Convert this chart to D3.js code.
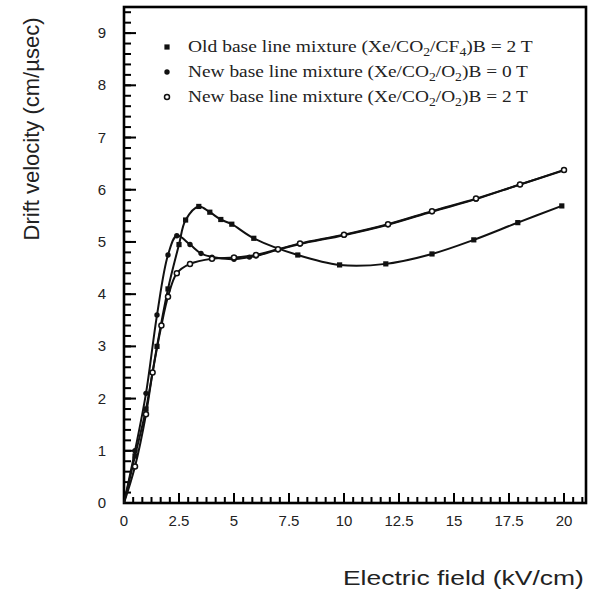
<!DOCTYPE html>
<html>
<head>
<meta charset="utf-8">
<script src="https://cdn.jsdelivr.net/npm/d3@7/dist/d3.min.js"></script>
<style>
  html, body { margin: 0; padding: 0; background: #fff; }
  svg { display: block; }
</style>
</head>
<body>
<svg id="chart" width="590" height="594"></svg>
<script>
// Drift velocity vs electric field for three gas mixtures
const oldMixX   = [0, 0.5, 1.0, 1.5, 2.0, 2.5, 2.8, 3.4, 3.9, 4.4, 4.9, 5.9, 7.9, 9.8, 11.9, 14.0, 15.9, 17.9, 19.9];
const oldMixV   = [0, 0.9, 1.8, 3.0, 4.1, 4.95, 5.42, 5.68, 5.57, 5.43, 5.34, 5.07, 4.75, 4.56, 4.58, 4.77, 5.04, 5.37, 5.69];

const new0TX    = [0, 0.5, 1.0, 1.5, 2.0, 2.4, 3.0, 3.5, 4.0, 5.0, 5.7, 6.0, 7.0, 8.0, 10.0, 12.0, 14.0, 16.0, 18.0, 20.0];
const new0TV    = [0, 1.0, 2.1, 3.6, 4.75, 5.12, 4.95, 4.78, 4.71, 4.67, 4.71, 4.73, 4.85, 4.96, 5.13, 5.33, 5.58, 5.82, 6.1, 6.37];

const new2TX    = [0, 0.5, 1.0, 1.3, 1.7, 2.0, 2.4, 3.0, 4.0, 5.0, 6.0, 7.0, 8.0, 10.0, 12.0, 14.0, 16.0, 18.0, 20.0];
const new2TV    = [0, 0.7, 1.7, 2.5, 3.4, 3.95, 4.4, 4.58, 4.68, 4.7, 4.75, 4.86, 4.97, 5.14, 5.34, 5.59, 5.83, 6.1, 6.38];

const xTickValues = [0, 2.5, 5, 7.5, 10, 12.5, 15, 17.5, 20];
const xTickLabels = ["0", "2.5", "5", "7.5", "10", "12.5", "15", "17.5", "20"];
const yTickValues = [0, 1, 2, 3, 4, 5, 6, 7, 8, 9];
const yTickLabels = ["0", "1", "2", "3", "4", "5", "6", "7", "8", "9"];

const legendLabels = [
  ["Old base line mixture (Xe/CO", "2", "/CF", "4", ")B = 2 T"],
  ["New base line mixture (Xe/CO", "2", "/O", "2", ")B = 0 T"],
  ["New base line mixture (Xe/CO", "2", "/O", "2", ")B = 2 T"]
];

const svg = d3.select("#chart");
const padL = 124, padR = 586, padT = 7, padB = 503;

const x = d3.scaleLinear().domain([0, 21]).range([padL, padR]);
const y = d3.scaleLinear().domain([0, 9.5]).range([padB, padT]);

// stretch a text element horizontally so it spans the given width
function fitWidth(sel, width, anchorX) {
  const w = sel.node().getComputedTextLength();
  const k = width / w;
  sel.attr("transform", `translate(${anchorX},0) scale(${k},1) translate(${-anchorX},0)`);
}

// tick marks as thin filled bars pointing into the plot
const xMinor = d3.range(0, 21.01, 2.5 / 6);
const yMinor = d3.range(0, 9.51, 0.2);
const tickG = svg.append("g").attr("fill", "#000");
tickG.selectAll("rect.xminor").data(xMinor).enter().append("rect").attr("class", "xminor")
  .attr("x", d => x(d) - 1).attr("y", padB - 6).attr("width", 2).attr("height", 6);
tickG.selectAll("rect.xmajor").data(xTickValues).enter().append("rect").attr("class", "xmajor")
  .attr("x", d => x(d) - 1).attr("y", padB - 10).attr("width", 2).attr("height", 10);
tickG.selectAll("rect.yminor").data(yMinor).enter().append("rect").attr("class", "yminor")
  .attr("x", padL).attr("y", d => y(d) - 1).attr("width", 7).attr("height", 2);
tickG.selectAll("rect.ymajor").data(yTickValues).enter().append("rect").attr("class", "ymajor")
  .attr("x", padL).attr("y", d => y(d) - 1).attr("width", 12).attr("height", 2);

// frame
svg.append("rect")
  .attr("x", padL).attr("y", padT)
  .attr("width", padR - padL).attr("height", padB - padT)
  .attr("fill", "none").attr("stroke", "#000").attr("stroke-width", 2.6);

// tick labels
const labelFont = "Liberation Sans, Arial, sans-serif";
svg.append("g").selectAll("text").data(xTickValues).join("text")
  .attr("x", d => x(d)).attr("y", 526)
  .attr("text-anchor", "middle")
  .attr("font-family", labelFont).attr("font-size", 15)
  .attr("fill", "#222")
  .text((d, i) => xTickLabels[i]);
svg.append("g").selectAll("text").data(yTickValues).join("text")
  .attr("x", 106).attr("y", d => y(d) + 5)
  .attr("text-anchor", "end")
  .attr("font-family", labelFont).attr("font-size", 15)
  .attr("fill", "#222")
  .text((d, i) => yTickLabels[i]);

// axis titles
const xTitle = svg.append("text")
  .attr("x", 343).attr("y", 585)
  .attr("font-family", labelFont).attr("font-size", 21)
  .attr("fill", "#222")
  .text("Electric field (kV/cm)");
fitWidth(xTitle, 241, 343);
svg.append("text")
  .attr("transform", "translate(39,129) rotate(-90)")
  .attr("text-anchor", "middle")
  .attr("font-family", labelFont).attr("font-size", 22)
  .attr("fill", "#222")
  .text("Drift velocity (cm/µsec)");

// curves
const curveGen = d3.line().x(d => x(d[0])).y(d => y(d[1])).curve(d3.curveCatmullRom.alpha(0.5));
const series = [
  { xs: oldMixX, vs: oldMixV, marker: "square" },
  { xs: new0TX, vs: new0TV, marker: "dot" },
  { xs: new2TX, vs: new2TV, marker: "open" }
];
const plot = svg.append("g");
series.forEach(s => {
  const pts = s.xs.map((v, i) => [v, s.vs[i]]);
  plot.append("path").datum(pts)
    .attr("d", curveGen)
    .attr("fill", "none").attr("stroke", "#111").attr("stroke-width", 2);
});
function drawMarker(g, type, cx, cy) {
  if (type === "square") {
    g.append("rect").attr("x", cx - 2.6).attr("y", cy - 2.6).attr("width", 5.2).attr("height", 5.2).attr("fill", "#111");
  } else if (type === "dot") {
    g.append("circle").attr("cx", cx).attr("cy", cy).attr("r", 2.7).attr("fill", "#111");
  } else {
    g.append("circle").attr("cx", cx).attr("cy", cy).attr("r", 2.5).attr("fill", "#fff").attr("stroke", "#111").attr("stroke-width", 1.5);
  }
}
series.forEach(s => {
  s.xs.forEach((v, i) => { if (i > 0) drawMarker(plot, s.marker, x(v), y(s.vs[i])); });
});

// legend
const legendY = [47, 72, 97];
const legendG = svg.append("g");
legendLabels.forEach((parts, i) => {
  drawMarker(legendG, series[i].marker, 167, legendY[i]);
  const t = legendG.append("text")
    .attr("x", 188).attr("y", legendY[i] + 5)
    .attr("font-family", "Liberation Serif, Times New Roman, serif")
    .attr("font-size", 17).attr("fill", "#222");
  parts.forEach((p, j) => {
    const sub = j === 1 || j === 3;
    t.append("tspan")
      .attr("font-size", sub ? 12 : 17)
      .attr("dy", sub ? 4 : (j > 0 ? -4 : 0))
      .text(p);
  });
  fitWidth(t, i === 0 ? 345 : 340, 188);
});
</script>
</body>
</html>
